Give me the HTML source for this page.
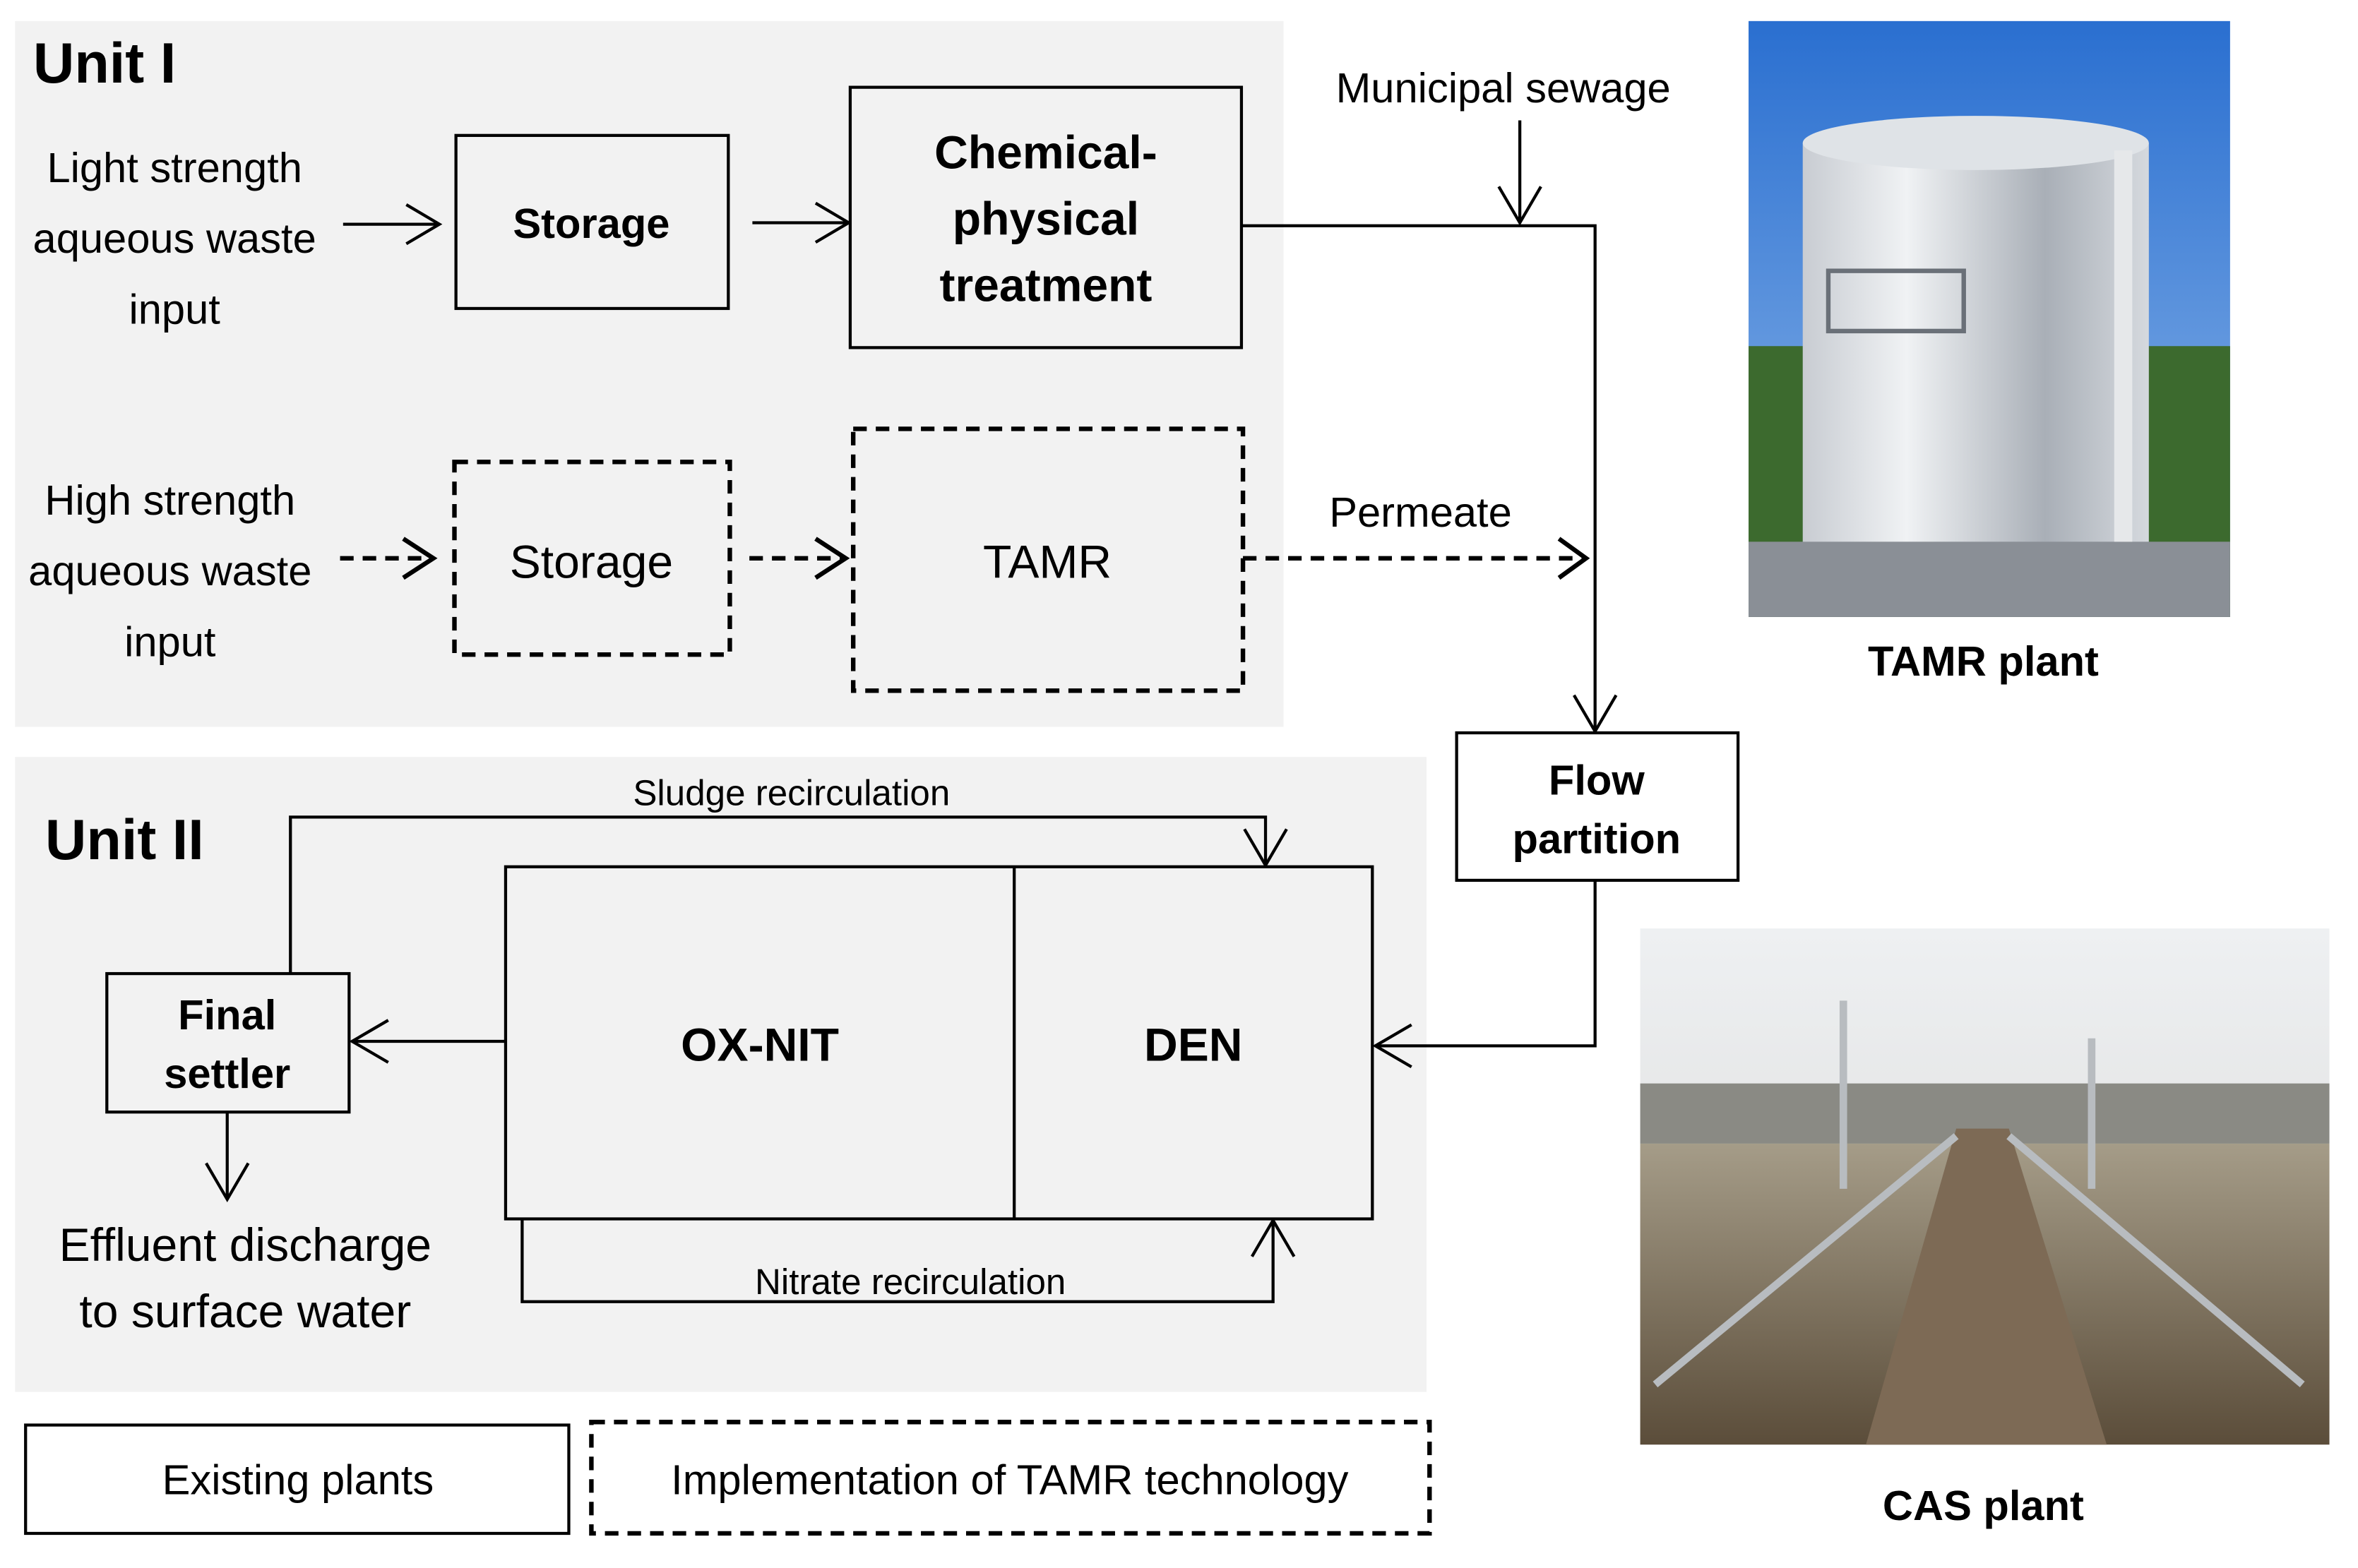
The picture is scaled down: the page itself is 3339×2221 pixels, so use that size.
<!DOCTYPE html>
<html><head><meta charset="utf-8"><style>
html,body{margin:0;padding:0;background:#fff}
svg{display:block}
text{font-family:"Liberation Sans","DejaVu Sans",sans-serif;fill:#000}
</style></head><body>
<svg width="3339" height="2221" viewBox="0 0 1567 1042" preserveAspectRatio="none" xmlns="http://www.w3.org/2000/svg">
<defs>
<linearGradient id="sky" x1="0" y1="0" x2="0" y2="1"><stop offset="0" stop-color="#2a6fd0"/><stop offset="1" stop-color="#8fb8ea"/></linearGradient>
<linearGradient id="tank" x1="0" y1="0" x2="1" y2="0"><stop offset="0" stop-color="#c8ccd2"/><stop offset="0.3" stop-color="#f0f2f4"/><stop offset="0.7" stop-color="#a9afb7"/><stop offset="1" stop-color="#d5d9de"/></linearGradient>
<linearGradient id="sky2" x1="0" y1="0" x2="0" y2="1"><stop offset="0" stop-color="#eef0f2"/><stop offset="1" stop-color="#d8d8d6"/></linearGradient>
<linearGradient id="water" x1="0" y1="0" x2="0" y2="1"><stop offset="0" stop-color="#a59c88"/><stop offset="1" stop-color="#5b4d3a"/></linearGradient>
</defs>
<rect x="10" y="14" width="843" height="469" fill="#f2f2f2"/>
<rect x="10" y="503" width="938" height="422" fill="#f2f2f2"/>
<g fill="none" stroke="#000" stroke-width="2">
<rect x="303" y="90" width="181" height="115"/>
<rect x="565" y="58" width="260" height="173"/>
<rect x="968" y="487" width="187" height="98"/>
<rect x="336" y="576" width="576" height="234"/>
<line x1="674" y1="576" x2="674" y2="810"/>
<rect x="71" y="647" width="161" height="92"/>
<rect x="17" y="947" width="361" height="72"/>
<g stroke-width="3" stroke-dasharray="9,6">
<rect x="302" y="307" width="183" height="128"/>
<rect x="567" y="285" width="259" height="174"/>
<rect x="393" y="945" width="557" height="74"/>
<line x1="226" y1="371" x2="288" y2="371"/>
<line x1="498" y1="371" x2="562" y2="371"/>
<line x1="826" y1="371" x2="1054" y2="371"/>
</g>
<g stroke-width="3">
<polyline points="268,358 288,371 268,384"/>
<polyline points="542,358 562,371 542,384"/>
<polyline points="1036,358 1054,371 1036,384"/>
</g>
<line x1="228" y1="149" x2="292" y2="149"/><polyline points="270,136 292,149 270,162"/>
<line x1="500" y1="148" x2="564" y2="148"/><polyline points="542,135 564,148 542,161"/>
<polyline points="825,150 1060,150 1060,486"/><polyline points="1046,462 1060,486 1074,462"/>
<line x1="1010" y1="80" x2="1010" y2="148"/><polyline points="996,124 1010,148 1024,124"/>
<polyline points="1060,585 1060,695 914,695"/><polyline points="938,681 914,695 938,709"/>
<line x1="336" y1="692" x2="234" y2="692"/><polyline points="258,678 234,692 258,706"/>
<polyline points="193,647 193,543 841,543 841,575"/><polyline points="827,551 841,575 855,551"/>
<polyline points="347,810 347,865 846,865 846,811"/><polyline points="832,835 846,811 860,835"/>
<line x1="151" y1="739" x2="151" y2="797"/><polyline points="137,773 151,797 165,773"/>
</g>
<g font-size="28" text-anchor="middle">
<text x="116" y="121">Light strength</text><text x="116" y="168">aqueous waste</text><text x="116" y="215">input</text>
<text x="113" y="342">High strength</text><text x="113" y="389">aqueous waste</text><text x="113" y="436">input</text>
<text x="393" y="384" font-size="31">Storage</text>
<text x="696" y="384" font-size="31">TAMR</text>
<text x="999" y="68">Municipal sewage</text>
<text x="944" y="350">Permeate</text>
<text x="163" y="838" font-size="31">Effluent discharge</text>
<text x="163" y="882" font-size="31">to surface water</text>
<text x="198" y="993">Existing plants</text>
<text x="671" y="993">Implementation of TAMR technology</text>
</g>
<g font-size="24" text-anchor="middle">
<text x="526" y="535">Sludge recirculation</text>
<text x="605" y="860">Nitrate recirculation</text>
</g>
<g font-weight="bold" text-anchor="middle" font-size="28">
<text x="393" y="158">Storage</text>
<text x="695" y="112" font-size="31">Chemical-</text><text x="695" y="156" font-size="31">physical</text><text x="695" y="200" font-size="31">treatment</text>
<text x="1061" y="528">Flow</text><text x="1061" y="567">partition</text>
<text x="151" y="684">Final</text><text x="151" y="723">settler</text>
<text x="505" y="705" font-size="31">OX-NIT</text>
<text x="793" y="705" font-size="31">DEN</text>
<text x="1318" y="449">TAMR plant</text>
<text x="1318" y="1010">CAS plant</text>
</g>
<text x="22" y="55" font-size="38" font-weight="bold">Unit I</text>
<text x="30" y="571" font-size="38" font-weight="bold">Unit II</text>
<rect x="1162" y="14" width="320" height="396" fill="url(#sky)"/>
<rect x="1162" y="230" width="320" height="180" fill="#3c6a2e"/>
<rect x="1198" y="95" width="230" height="300" fill="url(#tank)"/>
<ellipse cx="1313" cy="95" rx="115" ry="18" fill="#dfe3e7"/>
<rect x="1162" y="360" width="320" height="50" fill="#8a8f96"/>
<rect x="1405" y="100" width="12" height="260" fill="#e6e8ea"/>
<rect x="1215" y="180" width="90" height="40" fill="none" stroke="#6a7078" stroke-width="3"/>
<rect x="1090" y="617" width="458" height="343" fill="url(#sky2)"/>
<rect x="1090" y="720" width="458" height="40" fill="#8a8a84"/>
<rect x="1090" y="760" width="458" height="200" fill="url(#water)"/>
<polygon points="1300,750 1335,750 1400,960 1240,960" fill="#7d6a55"/>
<g stroke="#b8bcc0" stroke-width="5" fill="none">
<line x1="1300" y1="755" x2="1100" y2="920"/>
<line x1="1335" y1="755" x2="1530" y2="920"/>
<line x1="1225" y1="665" x2="1225" y2="790"/>
<line x1="1390" y1="690" x2="1390" y2="790"/>
</g>
</svg>
</body></html>
